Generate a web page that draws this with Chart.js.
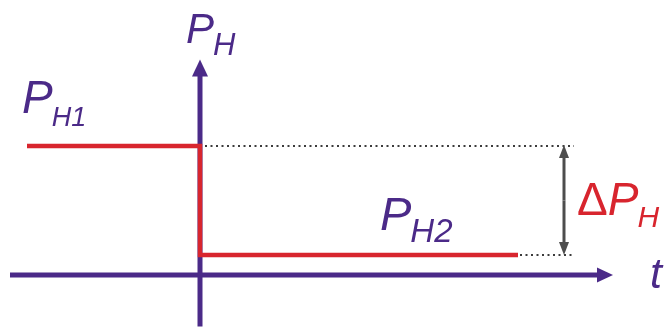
<!DOCTYPE html>
<html>
<head>
<meta charset="utf-8">
<script src="https://cdn.jsdelivr.net/npm/chart.js@4"></script>
<style>
	body { margin:0; background:#fff; }
	#wrap { position:relative; width:667px; height:328px; }
</style>
</head>
<body>
<div id="wrap"><canvas id="c"></canvas></div>
<script>
// step of pressure P_H over time t (P_H1 = 1)
const stepT = [-1.73, 0, 0, 3.18]
const stepP = [1, 1, 0.155, 0.155]
const PH1 = 1, PH2 = 0.155
// axes extents
const tAxis = [-1.9, 4.13]
const pAxis = [-0.4, 1.67]
// dotted guides end, delta arrow position
const guideEnd = 3.74
const deltaT = 3.64

const purple = '#4b2a88', red = '#d8252e', grey = '#4d4d4d'
const font = "'Liberation Sans', Arial, sans-serif"

// arrow from (x1,y1) to tip (x2,y2)
const arrow = (ctx, x1, y1, x2, y2, w, col, hl, hw) => {
	const a = Math.atan2(y2 - y1, x2 - x1), c = Math.cos(a), s = Math.sin(a)
	ctx.save()
	ctx.strokeStyle = col; ctx.fillStyle = col; ctx.lineWidth = w; ctx.lineCap = 'butt'
	ctx.beginPath(); ctx.moveTo(x1, y1); ctx.lineTo(x2 - c*hl*0.9, y2 - s*hl*0.9); ctx.stroke()
	ctx.beginPath()
	ctx.moveTo(x2, y2)
	ctx.lineTo(x2 - c*hl - s*hw, y2 - s*hl + c*hw)
	ctx.lineTo(x2 - c*hl + s*hw, y2 - s*hl - c*hw)
	ctx.closePath(); ctx.fill()
	ctx.restore()
}

// label with subscript
const label = (ctx, pre, main, sub, x, y, size, subSize, drop, col) => {
	ctx.fillStyle = col
	ctx.textBaseline = 'alphabetic'
	if (pre) {
		ctx.font = size + 'px ' + font
		ctx.fillText(pre, x, y)
		x += ctx.measureText(pre).width
	}
	ctx.font = 'italic ' + size + 'px ' + font
	ctx.fillText(main, x, y)
	x += ctx.measureText(main).width
	if (sub) {
		ctx.font = 'italic ' + subSize + 'px ' + font
		ctx.fillText(sub, x - 1, y + drop)
	}
}

const diagram = {
	id: 'diagram',
	beforeDatasetsDraw: chart => {
		const ctx = chart.ctx, X = chart.scales.x, Y = chart.scales.y
		// axes
		arrow(ctx, X.getPixelForValue(tAxis[0]), Y.getPixelForValue(0), X.getPixelForValue(tAxis[1]), Y.getPixelForValue(0), 5, purple, 16, 7.5)
		arrow(ctx, X.getPixelForValue(0), Y.getPixelForValue(pAxis[0]), X.getPixelForValue(0), Y.getPixelForValue(pAxis[1]), 5, purple, 17, 8)
	},
	afterDatasetsDraw: chart => {
		const ctx = chart.ctx, X = chart.scales.x, Y = chart.scales.y
		const dx = X.getPixelForValue(deltaT), y1 = Y.getPixelForValue(PH1), y2 = Y.getPixelForValue(PH2)
		const m = (y1 + y2) / 2
		arrow(ctx, dx, m, dx, y1 - 1, 3, grey, 13, 5)
		arrow(ctx, dx, m, dx, y2, 3, grey, 13, 5)

		const P = (t, p) => [X.getPixelForValue(t), Y.getPixelForValue(p)]
		label(ctx, '', 'P', 'H', ...P(-0.14, 1.798), 42, 31, 12, purple)
		label(ctx, '', 'P', 'H1', ...P(-1.78, 1.256), 46, 27, 13, purple)
		label(ctx, '', 'P', 'H2', ...P(1.80, 0.349), 47, 33, 12, purple)
		label(ctx, '\u0394', 'P', 'H', ...P(3.77, 0.465), 46, 30, 12, red)
		label(ctx, '', 't', '', ...P(4.50, -0.101), 43, 0, 0, purple)
	}
}

new Chart(document.getElementById('c'), {
	type: 'scatter',
	data: {
		datasets: [
			{
				label: 'P_H',
				data: stepT.map((t, i) => ({x: t, y: stepP[i]})),
				showLine: true,
				borderColor: red,
				borderWidth: 4.5,
				borderJoinStyle: 'miter',
				borderCapStyle: 'butt',
				pointRadius: 0,
				tension: 0,
				clip: false,
			},
			{
				label: 'guide1',
				data: [{x: 0.05, y: PH1}, {x: guideEnd, y: PH1}],
				showLine: true,
				borderColor: '#3c3c3c',
				borderWidth: 2,
				borderDash: [2, 3.5],
				pointRadius: 0,
			},
			{
				label: 'guide2',
				data: [{x: stepT[3] + 0.02, y: PH2}, {x: guideEnd, y: PH2}],
				showLine: true,
				borderColor: '#3c3c3c',
				borderWidth: 2,
				borderDash: [2, 3.5],
				pointRadius: 0,
			},
		]
	},
	options: {
		responsive: true,
		maintainAspectRatio: false,
		animation: false,
		layout: { padding: 0 },
		plugins: { legend: { display: false }, tooltip: { enabled: false } },
		scales: {
			x: { type: 'linear', display: false, min: -2.0, max: 4.67 },
			y: { type: 'linear', display: false, min: -0.411, max: 2.132 },
		}
	},
	plugins: [diagram]
})
</script>
</body>
</html>
